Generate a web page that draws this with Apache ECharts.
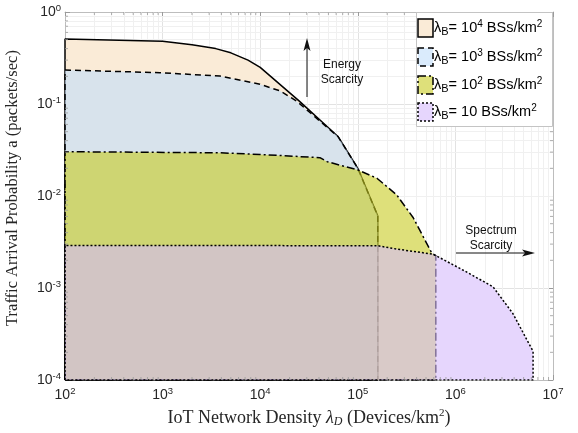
<!DOCTYPE html>
<html><head><meta charset="utf-8">
<script src="https://cdn.jsdelivr.net/npm/echarts@6/dist/echarts.min.js"></script>
<style>html,body{margin:0;padding:0;background:#fff}#c{width:578px;height:433px}</style>
</head><body><div id="c"></div>
<script>
// ---- data ----
const xTicks = [1e2, 1e3, 1e4, 1e5, 1e6, 1e7];
const yTicks = [1e-4, 1e-3, 1e-2, 1e-1, 1];
const legendExp = ['4', '3', '2', ''];
// lambda_B = 10^4 BSs/km^2
const bs4X = [100, 100, 1000, 2000, 3500, 5000, 7500, 10000, 25000, 63000, 100000, 160000, 160000, 100];
const bs4Y = [1e-4, 0.51, 0.48, 0.44, 0.40, 0.36, 0.30, 0.25, 0.108, 0.044, 0.020, 0.0061, 1e-4, 1e-4];
// lambda_B = 10^3
const bs3X = [100, 100, 940, 3870, 9950, 15900, 23500, 63000, 100000, 160000, 160000, 100];
const bs3Y = [1e-4, 0.234, 0.219, 0.201, 0.164, 0.139, 0.108, 0.044, 0.020, 0.0061, 1e-4, 1e-4];
// lambda_B = 10^2
const bs2X = [100, 100, 3870, 9950, 40900, 48600, 100000, 157000, 250000, 370000, 575000, 630000, 630000, 100];
const bs2Y = [1e-4, 0.0303, 0.0295, 0.0283, 0.0261, 0.0236, 0.0192, 0.0156, 0.0103, 0.0058, 0.00238, 0.00225, 1e-4, 1e-4];
// lambda_B = 10
const bs1X = [100, 100, 10000, 160000, 250000, 370000, 575000, 630000, 1220000, 2430000, 3870000, 6250000, 6250000, 100];
const bs1Y = [1e-4, 0.0029, 0.00289, 0.00288, 0.00265, 0.0025, 0.00234, 0.00225, 0.00155, 0.00103, 0.00053, 0.000205, 1e-4, 1e-4];

const zip = (xs, ys) => xs.map((x, i) => [x, ys[i]]);

// minor grid / tick positions (2..9 within each decade)
const minorX = [], minorY = [];
for (let d = 2; d < 7; d++) for (let k = 2; k <= 9; k++) minorX.push(k * Math.pow(10, d));
for (let d = -4; d < 0; d++) for (let k = 2; k <= 9; k++) minorY.push(+(k * Math.pow(10, d)).toPrecision(3));

const SANS = 'Liberation Sans, Arial, Helvetica, sans-serif';
const SERIF = 'Liberation Serif, Times New Roman, serif';
const AX = '#bdbdbd';
const TXT = '#262626';

const fillCols = ['rgb(247,222,188)', 'rgb(193,222,250)', 'rgb(200,203,33)', 'rgb(213,187,252)'];
const dashes = ['solid', [6, 4], [8, 3, 2, 3], [2, 2]];
const alpha = 0.6;

const tickRich = {
  b: {fontSize: 14, fontFamily: SANS, color: TXT, lineHeight: 18},
  s: {fontSize: 9.5, fontFamily: SANS, color: TXT, verticalAlign: 'top', lineHeight: 10}
};
const fmt = v => '{b|10}{s|' + Math.round(Math.log10(v)) + '}';

function area(name, data, i) {
  return {
    name, type: 'line', data, showSymbol: false, symbol: 'none', clip: true,
    lineStyle: {color: '#000', width: 1.5, type: dashes[i]},
    areaStyle: {color: fillCols[i], opacity: alpha, origin: 'start'},
    z: 3 + i, animation: false, silent: true
  };
}
function backing(data) {
  return {
    type: 'line', data, showSymbol: false, symbol: 'none', clip: true,
    lineStyle: {width: 0, opacity: 0},
    areaStyle: {color: '#fff', opacity: 1, origin: 'start'},
    z: 2, animation: false, silent: true
  };
}
function tickSeries(data, size, offset) {
  return {type: 'scatter', data, symbol: 'rect', symbolSize: size, symbolOffset: offset,
    itemStyle: {color: '#9a9a9a'}, silent: true, animation: false, z: 10, clip: false};
}

const chart = echarts.init(document.getElementById('c'), null, {renderer: 'canvas'});

const legendY = [28, 57, 85, 112];
const graphics = [];
graphics.push({type: 'rect', shape: {x: 416.5, y: 12.5, width: 136, height: 114},
  style: {fill: '#fff', stroke: '#c4c4c4', lineWidth: 1}, z: 100});
legendY.forEach((cy, i) => {
  graphics.push({type: 'rect', shape: {x: 418, y: cy - 9, width: 15, height: 18},
    style: {fill: echarts.color.modifyAlpha(fillCols[i], alpha), stroke: '#000', lineWidth: 1.5,
      lineDash: dashes[i] === 'solid' ? null : dashes[i]}, z: 101});
  const txt = legendExp[i] ? '{l|λ}{sb|B}{t|= 10}{sp|' + legendExp[i] + '}{t| BSs/km}{sp|2}'
                           : '{l|λ}{sb|B}{t|= 10 BSs/km}{sp|2}';
  graphics.push({type: 'text', x: 434, y: cy, z: 101,
    style: {text: txt, verticalAlign: 'middle', align: 'left',
      rich: {
        l: {fontSize: 14.5, fontFamily: SANS, color: '#000', lineHeight: 18, verticalAlign: 'middle'},
        t: {fontSize: 14.5, fontFamily: SANS, color: '#000', lineHeight: 18, verticalAlign: 'middle'},
        sb: {fontSize: 11, fontFamily: SANS, color: '#000', lineHeight: 9, verticalAlign: 'bottom'},
        sp: {fontSize: 10, fontFamily: SANS, color: '#000', lineHeight: 10, verticalAlign: 'top'}
      }}});
});
// y axis title
graphics.push({type: 'text', x: 13, y: 188, rotation: Math.PI / 2, z: 50,
  style: {text: 'Traffic Arrival Probability a (packets/sec)', font: '16.5px ' + SERIF, fill: TXT,
    align: 'center', verticalAlign: 'middle'}});
// Energy scarcity annotation
graphics.push({type: 'line', shape: {x1: 307, y1: 48, x2: 307, y2: 97}, style: {stroke: '#111', lineWidth: 1}, z: 102});
graphics.push({type: 'polygon', shape: {points: [[307, 38], [303.5, 51], [307, 48], [310.5, 51]]}, style: {fill: '#111'}, z: 102});
graphics.push({type: 'text', x: 342, y: 65, z: 102, style: {text: 'Energy', font: '12px ' + SANS, fill: '#111', align: 'center', verticalAlign: 'middle'}});
graphics.push({type: 'text', x: 342, y: 80, z: 102, style: {text: 'Scarcity', font: '12px ' + SANS, fill: '#111', align: 'center', verticalAlign: 'middle'}});
// Spectrum scarcity annotation
graphics.push({type: 'line', shape: {x1: 456, y1: 253, x2: 525, y2: 253}, style: {stroke: '#111', lineWidth: 1}, z: 102});
graphics.push({type: 'polygon', shape: {points: [[535, 253], [522, 249.5], [525, 253], [522, 256.5]]}, style: {fill: '#111'}, z: 102});
graphics.push({type: 'text', x: 491, y: 231, z: 102, style: {text: 'Spectrum', font: '12px ' + SANS, fill: '#111', align: 'center', verticalAlign: 'middle'}});
graphics.push({type: 'text', x: 491, y: 246, z: 102, style: {text: 'Scarcity', font: '12px ' + SANS, fill: '#111', align: 'center', verticalAlign: 'middle'}});

const option = {
  backgroundColor: '#fff',
  animation: false,
  grid: {left: 65, right: 25, top: 12, bottom: 49, containLabel: false},
  xAxis: [{
    type: 'log', logBase: 10, min: xTicks[0], max: xTicks[xTicks.length - 1], splitNumber: 5,
    axisLine: {show: true, lineStyle: {color: AX, width: 1}},
    axisTick: {show: true, inside: true, length: 5, lineStyle: {color: '#9a9a9a'}},
    axisLabel: {formatter: fmt, rich: tickRich, margin: 6},
    splitLine: {show: true, lineStyle: {color: '#e2e2e2', width: 1}},
    name: '{a|IoT Network Density }{i|λ}{d|D}{a| (Devices/km}{p|2}{a|)}',
    nameLocation: 'middle', nameGap: 28,
    nameTextStyle: {rich: {
      a: {fontSize: 18, fontFamily: SERIF, color: TXT, lineHeight: 20},
      i: {fontSize: 18, fontFamily: SERIF, fontStyle: 'italic', color: TXT, lineHeight: 20},
      d: {fontSize: 12, fontFamily: SERIF, fontStyle: 'italic', color: TXT, lineHeight: 10, verticalAlign: 'bottom'},
      p: {fontSize: 11, fontFamily: SERIF, color: TXT, lineHeight: 12, verticalAlign: 'top'}
    }}
  }, {
    type: 'log', logBase: 10, min: xTicks[0], max: xTicks[xTicks.length - 1], splitNumber: 5, position: 'top',
    axisLine: {show: true, lineStyle: {color: AX}}, axisTick: {show: true, inside: true, length: 5, lineStyle: {color: '#9a9a9a'}},
    axisLabel: {show: false}, splitLine: {show: false}
  }],
  yAxis: [{
    type: 'log', logBase: 10, min: yTicks[0], max: yTicks[yTicks.length - 1], splitNumber: 4,
    axisLine: {show: true, lineStyle: {color: AX, width: 1}},
    axisTick: {show: true, inside: true, length: 5, lineStyle: {color: '#9a9a9a'}},
    axisLabel: {formatter: fmt, rich: tickRich, margin: 4},
    splitLine: {show: true, lineStyle: {color: '#e2e2e2', width: 1}}
  }, {
    type: 'log', logBase: 10, min: yTicks[0], max: yTicks[yTicks.length - 1], splitNumber: 4, position: 'right',
    axisLine: {show: true, lineStyle: {color: AX}}, axisTick: {show: true, inside: true, length: 5, lineStyle: {color: '#9a9a9a'}},
    axisLabel: {show: false}, splitLine: {show: false}
  }],
  graphic: graphics,
  series: [
    {
      type: 'scatter', data: [], silent: true, z: 1,
      markLine: {
        silent: true, symbol: ['none', 'none'], label: {show: false}, animation: false, z: 1,
        lineStyle: {color: '#f0f0f0', width: 1, type: 'solid'},
        data: minorX.map(v => ({xAxis: v})).concat(minorY.map(v => ({yAxis: v})))
      }
    },
    backing(zip(bs4X, bs4Y)),
    backing(zip(bs3X, bs3Y)),
    backing(zip(bs2X, bs2Y)),
    backing(zip(bs1X, bs1Y)),
    area('λB = 10^4', zip(bs4X, bs4Y), 0),
    area('λB = 10^3', zip(bs3X, bs3Y), 1),
    area('λB = 10^2', zip(bs2X, bs2Y), 2),
    area('λB = 10', zip(bs1X, bs1Y), 3),
    tickSeries(minorX.map(v => [v, yTicks[0]]), [1, 3], [0, -1.5]),
    tickSeries(minorX.map(v => [v, yTicks[yTicks.length - 1]]), [1, 3], [0, 1.5]),
    tickSeries(minorY.map(v => [xTicks[0], v]), [3, 1], [1.5, 0]),
    tickSeries(minorY.map(v => [xTicks[xTicks.length - 1], v]), [3, 1], [-1.5, 0])
  ]
};
chart.setOption(option);
</script></body></html>
